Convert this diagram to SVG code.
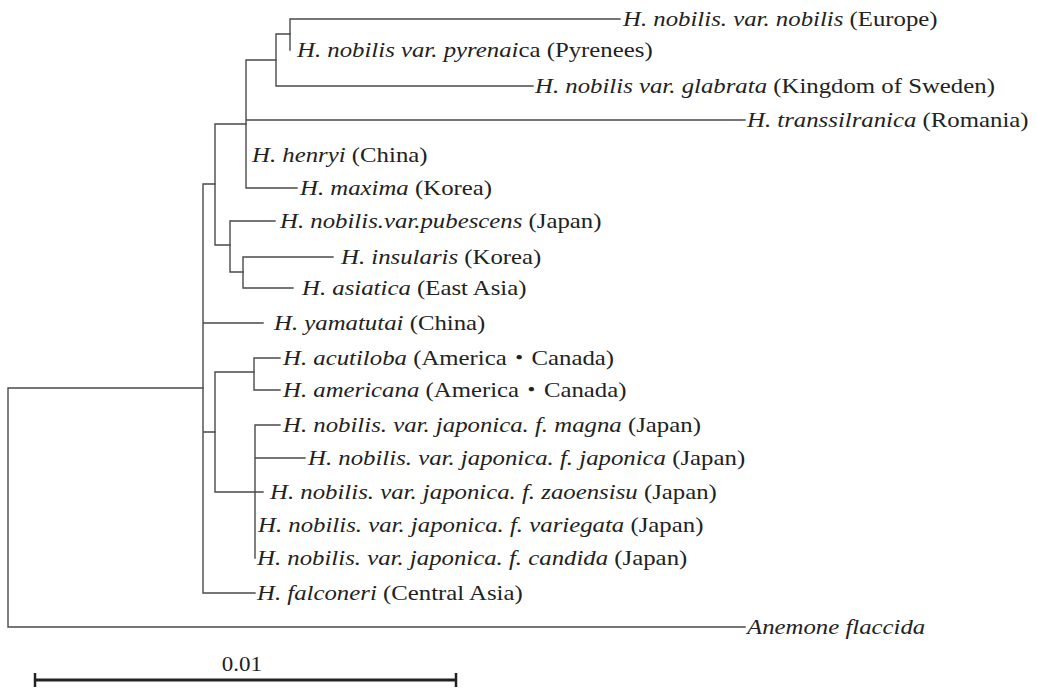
<svg xmlns="http://www.w3.org/2000/svg" width="1037" height="689" viewBox="0 0 1037 689">
<style>
.e{stroke:#4a4a4a;stroke-width:1.4;fill:none;stroke-linecap:square}
text{font-family:"Liberation Serif","Noto Sans CJK JP",serif;font-size:20px;fill:#222}
.i{font-style:italic}
.bar{stroke:#222;stroke-width:3;fill:none}
.tick{stroke:#222;stroke-width:2.5;fill:none}
</style>
<rect width="1037" height="689" fill="#fff"/>
<g id="connectors">
<path class="e" d="M8,388V627M8,388H203M8,627H745"/>
<path class="e" d="M203,184V593M203,184H215M203,323H263M203,432H215M203,593H255"/>
<path class="e" d="M215,124V245M215,124H246M215,245H230"/>
<path class="e" d="M246,60V188M246,60H276M246,120H745M246,188H297"/>
<path class="e" d="M276,34V86M276,34H290M276,86H533"/>
<path class="e" d="M290,19V50M290,19H620"/>
<path class="e" d="M230,221V272M230,221H275M230,272H243"/>
<path class="e" d="M243,257V288M243,257H333M243,288H293"/>
<path class="e" d="M215,372V492M215,372H254M215,492H263"/>
<path class="e" d="M254,358V390M254,358H280M254,390H280"/>
<path class="e" d="M255,425V558M255,425H280M255,458H305"/>
</g>
<g id="n1"><text transform="translate(623,26) scale(1.24,1)"><tspan class="i">H. nobilis. var. nobilis</tspan> (Europe)</text></g>
<g id="n2"><text transform="translate(297,57) scale(1.24,1)"><tspan class="i">H. nobilis var. pyrenai</tspan>ca (Pyrenees)</text></g>
<g id="n3"><text transform="translate(535,93) scale(1.24,1)"><tspan class="i">H. nobilis var. glabrata</tspan> (Kingdom of Sweden)</text></g>
<g id="n4"><text transform="translate(747,127) scale(1.24,1)"><tspan class="i">H. transsilranica</tspan> (Romania)</text></g>
<g id="n5"><text transform="translate(252,162) scale(1.24,1)"><tspan class="i">H. henryi</tspan> (China)</text></g>
<g id="n6"><text transform="translate(300,195) scale(1.24,1)"><tspan class="i">H. maxima</tspan> (Korea)</text></g>
<g id="n7"><text transform="translate(280,228) scale(1.24,1)"><tspan class="i">H. nobilis.var.pubescens</tspan> (Japan)</text></g>
<g id="n8"><text transform="translate(341,264) scale(1.24,1)"><tspan class="i">H. insularis</tspan> (Korea)</text></g>
<g id="n9"><text transform="translate(302,295) scale(1.24,1)"><tspan class="i">H. asiatica</tspan> (East Asia)</text></g>
<g id="n10"><text transform="translate(274,330) scale(1.24,1)"><tspan class="i">H. yamatutai</tspan> (China)</text></g>
<g id="n11"><text transform="translate(283,365) scale(1.24,1)"><tspan class="i">H. acutiloba</tspan> (America・Canada)</text></g>
<g id="n12"><text transform="translate(283,397) scale(1.24,1)"><tspan class="i">H. americana</tspan> (America・Canada)</text></g>
<g id="n13"><text transform="translate(283,432) scale(1.24,1)"><tspan class="i">H. nobilis. var. japonica. f. magna</tspan> (Japan)</text></g>
<g id="n14"><text transform="translate(308,465) scale(1.24,1)"><tspan class="i">H. nobilis. var. japonica. f. japonica</tspan> (Japan)</text></g>
<g id="n15"><text transform="translate(270,499) scale(1.24,1)"><tspan class="i">H. nobilis. var. japonica. f. zaoensisu</tspan> (Japan)</text></g>
<g id="n16"><text transform="translate(258,532) scale(1.24,1)"><tspan class="i">H. nobilis. var. japonica. f. variegata</tspan> (Japan)</text></g>
<g id="n17"><text transform="translate(257,565) scale(1.24,1)"><tspan class="i">H. nobilis. var. japonica. f. candida</tspan> (Japan)</text></g>
<g id="n18"><text transform="translate(257,600) scale(1.24,1)"><tspan class="i">H. falconeri</tspan> (Central Asia)</text></g>
<g id="n19"><text transform="translate(747,634) scale(1.24,1)" class="i">Anemone flaccida</text></g>
<g id="scale">
<path class="bar" d="M35,680H456"/>
<path class="tick" d="M35,673V687M456,673V687"/>
<text transform="translate(242,671) scale(1.15,1)" text-anchor="middle">0.01</text>
</g>
</svg>
